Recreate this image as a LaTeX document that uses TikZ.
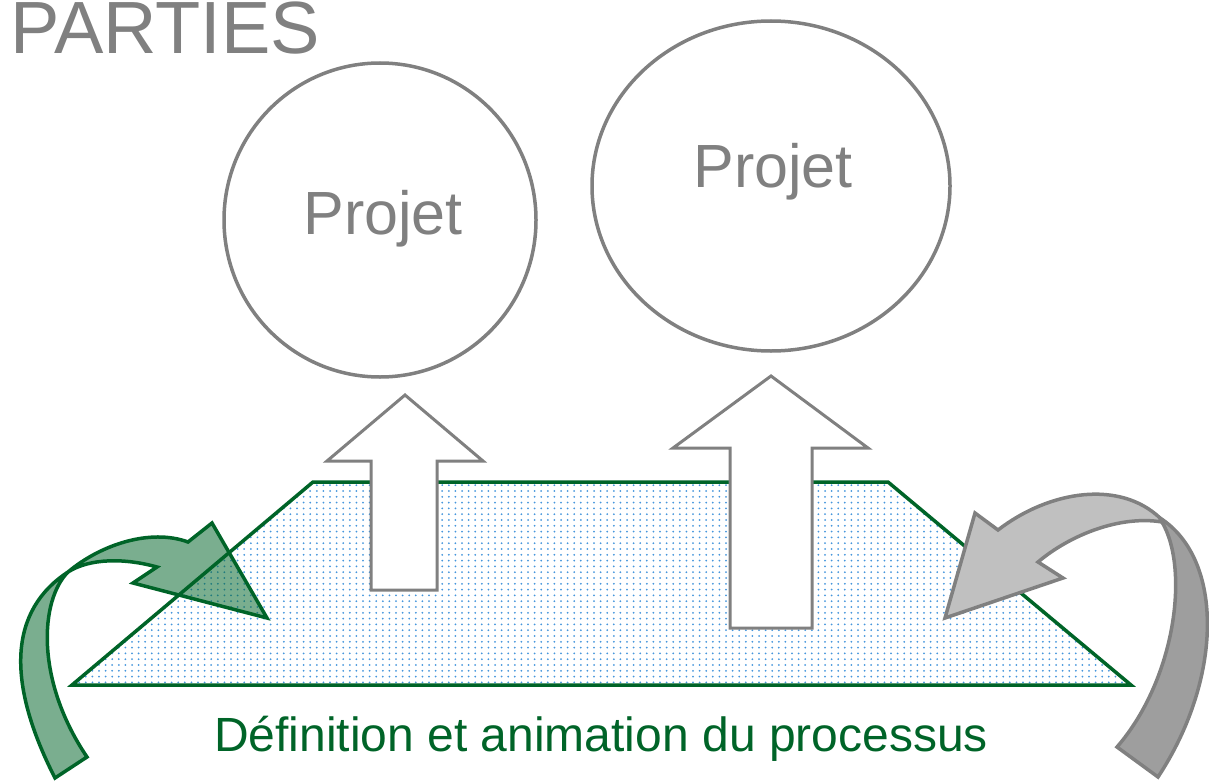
\documentclass[tikz,border=0pt]{standalone}
\usepackage{fontspec}
\setmainfont{Liberation Sans}
\usetikzlibrary{shapes.geometric,patterns}
\definecolor{txtgray}{RGB}{128,128,128}
\definecolor{linegray}{RGB}{128,128,128}
\definecolor{dkgreen}{RGB}{0,100,40}
\definecolor{dotblue}{RGB}{70,150,220}
\definecolor{lightgr}{RGB}{192,192,192}
\definecolor{midgr}{RGB}{158,158,158}
\pgfdeclarepatternformonly{bluedots}{\pgfqpoint{-1.2pt}{-1.2pt}}{\pgfqpoint{1.2pt}{1.2pt}}{\pgfqpoint{6.6pt}{5.8pt}}{%
  \pgfpathcircle{\pgfqpoint{0pt}{0pt}}{1pt}\pgfusepath{fill}}
\tikzset{
  circ/.style={ellipse, draw=linegray, line width=3.5pt, inner sep=0pt},
  projtxt/.style={text=txtgray, font=\fontsize{61}{66}\selectfont, inner sep=0pt, anchor=base},
  uparrow/.style={draw=linegray, fill=white, line width=3pt, line join=miter},
  trap/.style={draw=dkgreen, line width=3.5pt, pattern=bluedots, pattern color=dotblue, line join=miter},
  greenarrow/.style={draw=dkgreen, line width=3.5pt, fill=dkgreen, fill opacity=0.52, line join=miter},
  grayarrowtop/.style={draw=linegray, line width=3.5pt, fill=lightgr, line join=miter},
  grayarrowband/.style={draw=linegray, line width=3.5pt, fill=midgr, line join=miter},
}
\begin{document}
\begin{tikzpicture}[x=1pt,y=-1pt]
\useasboundingbox (0,0) rectangle (1209,781);
% trapezoid
\draw[trap] (72,685) -- (313,482) -- (888,482) -- (1131,685) -- cycle;
% up arrows
\draw[uparrow] (371,590) -- (371,461) -- (327,461) -- (405,395) -- (483,461) -- (437,461) -- (437,590) -- cycle;
\draw[uparrow] (730,628) -- (730,448) -- (673,448) -- (771,376) -- (868,448) -- (812,448) -- (812,628) -- cycle;
% circles
\node[circ, minimum width=312pt, minimum height=314pt] (c1) at (380,220) {};
\node[circ, minimum width=358pt, minimum height=330pt] (c2) at (771,186) {};
\node[projtxt] (t1) at (383,234) {Projet};
\node[projtxt] (t2) at (773,187) {Projet};
% title
\node[text=txtgray, font=\fontsize{74}{80}\selectfont, inner sep=0pt, anchor=base west] (title) at (10,54) {PARTIES};
% bottom label
\node[text=dkgreen, font=\fontsize{48}{54}\selectfont, inner sep=0pt, anchor=base west] (label) at (214,751) {Définition et animation du processus};
% green curved arrow
\draw[greenarrow] (55,778) .. controls (5,680) and (10,610) .. (68,572)
  .. controls (100,545) and (150,528) .. (188,542)
  -- (212,523) -- (267,618) -- (133,583) -- (157,567)
  .. controls (125,558) and (90,558) .. (68,572)
  .. controls (40,600) and (35,680) .. (87,757) -- cycle;
% gray curved arrow
\draw[grayarrowtop] (1160,518) .. controls (1120,480) and (1050,490) .. (998,530)
  -- (975,513) -- (945,618) -- (1063,578) -- (1038,562)
  .. controls (1070,535) and (1120,515) .. (1162,522) -- cycle;
\draw[grayarrowband] (1158,777) .. controls (1222,680) and (1225,560) .. (1160,518)
  -- (1162,522) .. controls (1190,570) and (1175,680) .. (1117,747) -- cycle;
\end{tikzpicture}
\end{document}
